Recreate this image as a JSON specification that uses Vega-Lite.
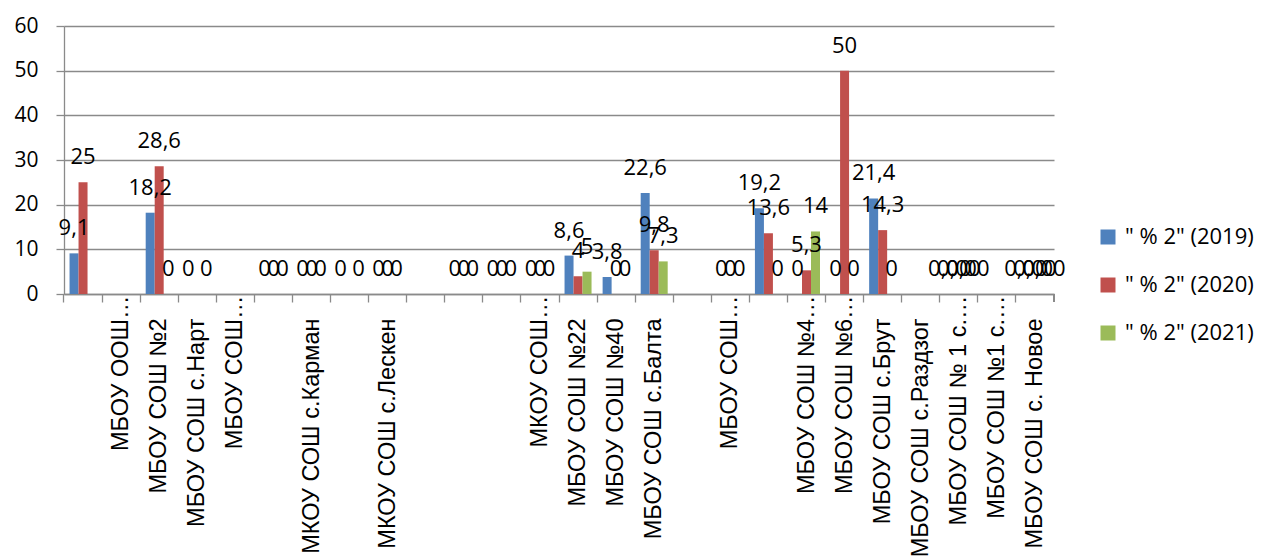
{
  "$schema": "https://vega.github.io/schema/vega-lite/v6.json",
  "width": 990,
  "height": 268,
  "autosize": "none",
  "padding": {"left": 64, "top": 26, "right": 208, "bottom": 262},
  "background": "white",
  "config": {"view": {"stroke": null}, "font": "Open Sans"},
  "data": {"values": [
    {"school": " ", "year": "\" % 2\" (2019)", "value": 9.1, "label": "9,1"},
    {"school": " ", "year": "\" % 2\" (2020)", "value": 25, "label": "25"},
    {"school": "МБОУ СОШ №2", "year": "\" % 2\" (2019)", "value": 18.2, "label": "18,2"},
    {"school": "МБОУ СОШ №2", "year": "\" % 2\" (2020)", "value": 28.6, "label": "28,6"},
    {"school": "МБОУ СОШ №2", "year": "\" % 2\" (2021)", "value": 0, "label": "0"},
    {"school": "МБОУ СОШ с.Нарт", "year": "\" % 2\" (2019)", "value": 0, "label": "0"},
    {"school": "МБОУ СОШ с.Нарт", "year": "\" % 2\" (2021)", "value": 0, "label": "0"},
    {"school": "  ", "year": "\" % 2\" (2019)", "value": 0, "label": "0"},
    {"school": "  ", "year": "\" % 2\" (2020)", "value": 0, "label": "0"},
    {"school": "  ", "year": "\" % 2\" (2021)", "value": 0, "label": "0"},
    {"school": "МКОУ СОШ с.Карман", "year": "\" % 2\" (2019)", "value": 0, "label": "0"},
    {"school": "МКОУ СОШ с.Карман", "year": "\" % 2\" (2020)", "value": 0, "label": "0"},
    {"school": "МКОУ СОШ с.Карман", "year": "\" % 2\" (2021)", "value": 0, "label": "0"},
    {"school": "   ", "year": "\" % 2\" (2019)", "value": 0, "label": "0"},
    {"school": "   ", "year": "\" % 2\" (2021)", "value": 0, "label": "0"},
    {"school": "МКОУ СОШ с.Лескен", "year": "\" % 2\" (2019)", "value": 0, "label": "0"},
    {"school": "МКОУ СОШ с.Лескен", "year": "\" % 2\" (2020)", "value": 0, "label": "0"},
    {"school": "МКОУ СОШ с.Лескен", "year": "\" % 2\" (2021)", "value": 0, "label": "0"},
    {"school": "     ", "year": "\" % 2\" (2019)", "value": 0, "label": "0"},
    {"school": "     ", "year": "\" % 2\" (2020)", "value": 0, "label": "0"},
    {"school": "     ", "year": "\" % 2\" (2021)", "value": 0, "label": "0"},
    {"school": "      ", "year": "\" % 2\" (2019)", "value": 0, "label": "0"},
    {"school": "      ", "year": "\" % 2\" (2020)", "value": 0, "label": "0"},
    {"school": "      ", "year": "\" % 2\" (2021)", "value": 0, "label": "0"},
    {"school": "МКОУ СОШ…", "year": "\" % 2\" (2019)", "value": 0, "label": "0"},
    {"school": "МКОУ СОШ…", "year": "\" % 2\" (2020)", "value": 0, "label": "0"},
    {"school": "МКОУ СОШ…", "year": "\" % 2\" (2021)", "value": 0, "label": "0"},
    {"school": "МБОУ СОШ №22", "year": "\" % 2\" (2019)", "value": 8.6, "label": "8,6"},
    {"school": "МБОУ СОШ №22", "year": "\" % 2\" (2020)", "value": 4, "label": "4"},
    {"school": "МБОУ СОШ №22", "year": "\" % 2\" (2021)", "value": 5, "label": "5"},
    {"school": "МБОУ СОШ №40", "year": "\" % 2\" (2019)", "value": 3.8, "label": "3,8"},
    {"school": "МБОУ СОШ №40", "year": "\" % 2\" (2020)", "value": 0, "label": "0"},
    {"school": "МБОУ СОШ №40", "year": "\" % 2\" (2021)", "value": 0, "label": "0"},
    {"school": "МБОУ СОШ с.Балта", "year": "\" % 2\" (2019)", "value": 22.6, "label": "22,6"},
    {"school": "МБОУ СОШ с.Балта", "year": "\" % 2\" (2020)", "value": 9.8, "label": "9,8"},
    {"school": "МБОУ СОШ с.Балта", "year": "\" % 2\" (2021)", "value": 7.3, "label": "7,3"},
    {"school": " МБОУ СОШ…", "year": "\" % 2\" (2019)", "value": 0, "label": "0"},
    {"school": " МБОУ СОШ…", "year": "\" % 2\" (2020)", "value": 0, "label": "0"},
    {"school": " МБОУ СОШ…", "year": "\" % 2\" (2021)", "value": 0, "label": "0"},
    {"school": "        ", "year": "\" % 2\" (2019)", "value": 19.2, "label": "19,2"},
    {"school": "        ", "year": "\" % 2\" (2020)", "value": 13.6, "label": "13,6"},
    {"school": "        ", "year": "\" % 2\" (2021)", "value": 0, "label": "0"},
    {"school": "МБОУ СОШ №4…", "year": "\" % 2\" (2019)", "value": 0, "label": "0"},
    {"school": "МБОУ СОШ №4…", "year": "\" % 2\" (2020)", "value": 5.3, "label": "5,3"},
    {"school": "МБОУ СОШ №4…", "year": "\" % 2\" (2021)", "value": 14, "label": "14"},
    {"school": "МБОУ СОШ №6…", "year": "\" % 2\" (2019)", "value": 0, "label": "0"},
    {"school": "МБОУ СОШ №6…", "year": "\" % 2\" (2020)", "value": 50, "label": "50"},
    {"school": "МБОУ СОШ №6…", "year": "\" % 2\" (2021)", "value": 0, "label": "0"},
    {"school": "МБОУ СОШ с.Брут", "year": "\" % 2\" (2019)", "value": 21.4, "label": "21,4"},
    {"school": "МБОУ СОШ с.Брут", "year": "\" % 2\" (2020)", "value": 14.3, "label": "14,3"},
    {"school": "МБОУ СОШ с.Брут", "year": "\" % 2\" (2021)", "value": 0, "label": "0"},
    {"school": "МБОУ СОШ № 1 с.…", "year": "\" % 2\" (2019)", "value": 0, "label": "0,00"},
    {"school": "МБОУ СОШ № 1 с.…", "year": "\" % 2\" (2020)", "value": 0, "label": "0,00"},
    {"school": "МБОУ СОШ № 1 с.…", "year": "\" % 2\" (2021)", "value": 0, "label": "0,00"},
    {"school": "МБОУ СОШ с. Новое", "year": "\" % 2\" (2019)", "value": 0, "label": "0,00"},
    {"school": "МБОУ СОШ с. Новое", "year": "\" % 2\" (2020)", "value": 0, "label": "0,00"},
    {"school": "МБОУ СОШ с. Новое", "year": "\" % 2\" (2021)", "value": 0, "label": "0,00"}
  ]},
  "encoding": {
    "x": {
      "field": "school", "type": "nominal",
      "scale": {"domain": [" ", "МБОУ ООШ…", "МБОУ СОШ №2", "МБОУ СОШ с.Нарт", "МБОУ СОШ…", "  ", "МКОУ СОШ с.Карман", "   ", "МКОУ СОШ с.Лескен", "    ", "     ", "      ", "МКОУ СОШ…", "МБОУ СОШ №22", "МБОУ СОШ №40", "МБОУ СОШ с.Балта", "       ", " МБОУ СОШ…", "        ", "МБОУ СОШ №4…", "МБОУ СОШ №6…", "МБОУ СОШ с.Брут", "МБОУ СОШ с.Раздзог", "МБОУ СОШ № 1 с.…", "МБОУ СОШ №1 с.…", "МБОУ СОШ с. Новое"], "paddingInner": 0, "paddingOuter": 0},
      "axis": {"title": null, "labelAngle": -90, "bandPosition": 0, "tickSize": 8,
        "labelPadding": {"condition": {"test": "indexof(datum.value, '…') >= 0", "value": -7}, "value": 16},
        "labelFont": "Liberation Sans", "labelFontSize": 23.5, "labelColor": "black", "labelLimit": 400, "labelOverlap": false, "labelBound": false, "domainColor": "#8a8a8a", "domainWidth": 1.3, "tickColor": "#8a8a8a", "tickWidth": 1.3, "grid": false}
    },
    "xOffset": {"field": "year", "type": "nominal", "scale": {"paddingInner": 0, "paddingOuter": 0.6154}},
    "y": {
      "field": "value", "type": "quantitative",
      "scale": {"domain": [0, 60], "nice": false},
      "axis": {"title": null, "values": [0, 10, 20, 30, 40, 50, 60], "tickSize": 8, "labelPadding": 18, "labelFont": "Open Sans", "labelFontSize": 21, "labelColor": "black", "domainColor": "#8a8a8a", "domainWidth": 1.3, "tickColor": "#8a8a8a", "tickWidth": 1.3, "grid": true, "gridColor": "#8a8a8a", "gridWidth": 1.3}
    }
  },
  "layer": [
    {
      "mark": {"type": "bar"},
      "encoding": {
        "color": {
          "field": "year", "type": "nominal",
          "scale": {"domain": ["\" % 2\" (2019)", "\" % 2\" (2020)", "\" % 2\" (2021)"], "range": ["#4F81BD", "#C0504D", "#9BBB59"]},
          "legend": {"title": null, "orient": "none", "legendX": 1033, "legendY": 200, "symbolType": "square", "symbolSize": 225, "symbolStrokeWidth": 0, "labelFont": "Open Sans", "labelFontSize": 22, "labelColor": "black", "labelOffset": 6, "rowPadding": 26, "padding": 0, "labelLimit": 300}
        }
      }
    },
    {
      "mark": {"type": "text", "dy": -18, "baseline": "alphabetic", "font": "Open Sans", "fontSize": 22, "color": "black"},
      "encoding": {"text": {"field": "label", "type": "nominal"}}
    },
    {
      "mark": {"type": "rule", "color": "#8a8a8a", "strokeWidth": 1.3, "y2Offset": 8},
      "encoding": {
        "x": {"datum": "МБОУ СОШ с. Новое", "bandPosition": 1},
        "xOffset": null,
        "y": {"datum": 0},
        "y2": {"datum": 0}
      }
    }
  ]
}
